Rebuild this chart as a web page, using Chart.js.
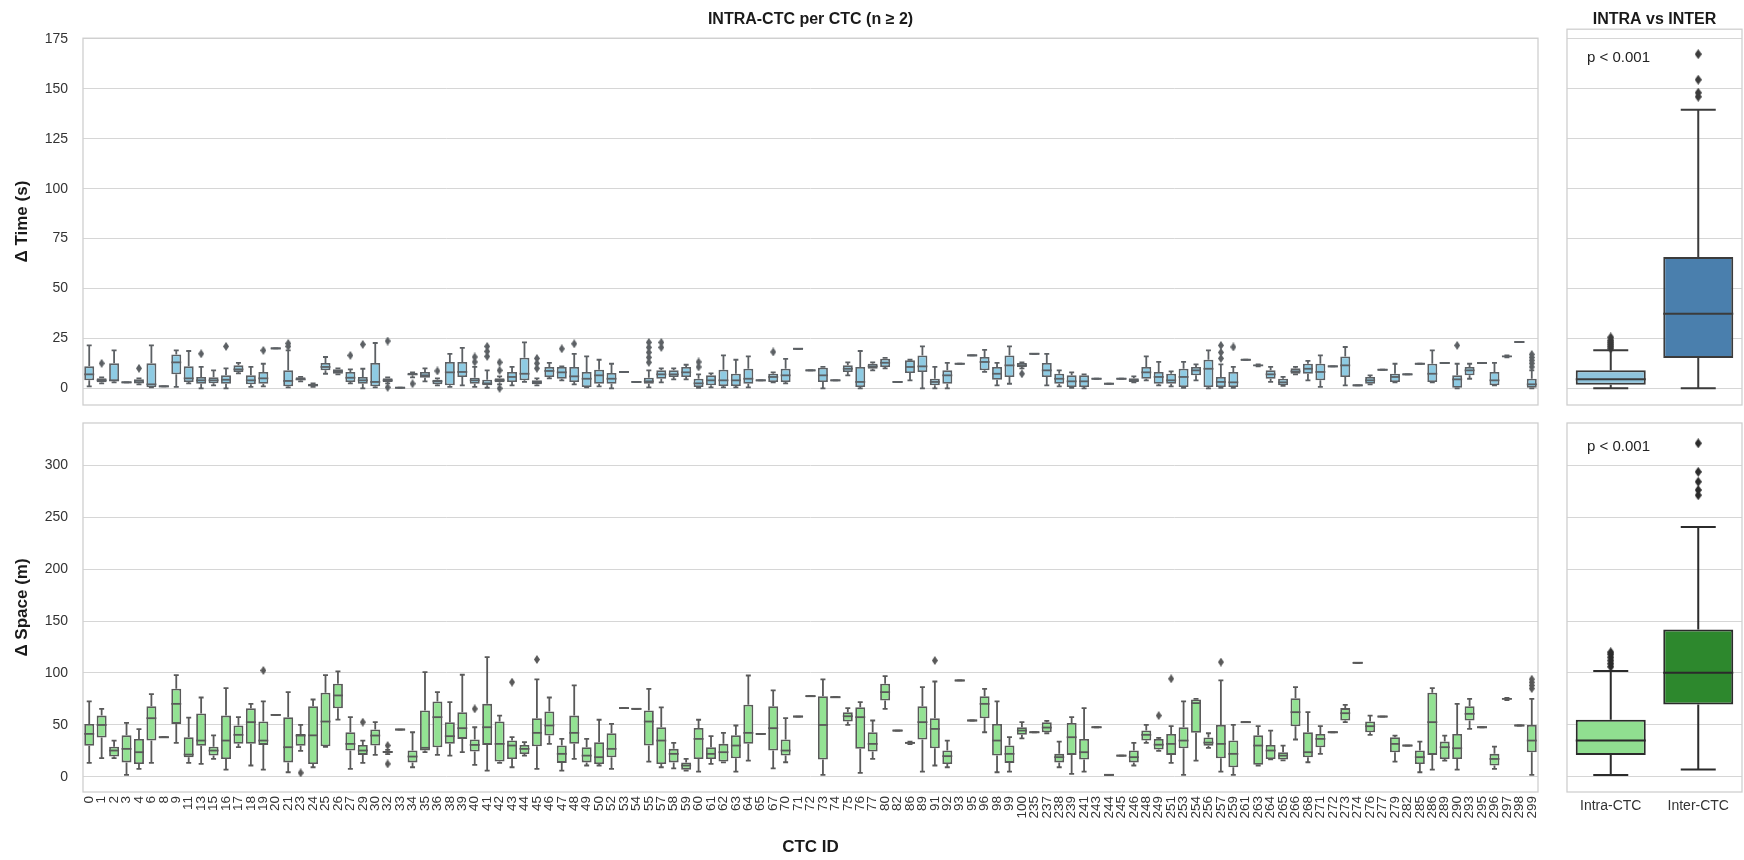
<!DOCTYPE html>
<html><head><meta charset="utf-8">
<script src="https://cdn.jsdelivr.net/npm/chart.js@4.4.1/dist/chart.umd.min.js"></script>
<style>
html,body{margin:0;padding:0;background:#fff;width:1744px;height:860px;overflow:hidden;position:relative;}
.p{position:absolute;}
</style></head><body>
<div class="p" style="left:0;top:0;width:1545px;height:410px"><canvas id="c1" width="1545" height="410"></canvas></div>
<div class="p" style="left:0;top:410px;width:1545px;height:450px"><canvas id="c2" width="1545" height="450"></canvas></div>
<div class="p" style="left:1563px;top:0;width:183px;height:410px"><canvas id="c3" width="183" height="410"></canvas></div>
<div class="p" style="left:1563px;top:410px;width:183px;height:450px"><canvas id="c4" width="183" height="450"></canvas></div>
<script>
const ctcIds = ['0','1','2','3','4','6','8','9','11','13','15','16','17','18','19','20','21','23','24','25','26','27','29','30','32','33','34','35','36','38','39','40','41','42','43','44','45','46','47','48','49','50','52','53','54','55','57','58','59','60','61','62','63','64','65','67','70','71','72','73','74','75','76','77','80','82','86','89','91','92','93','95','96','98','99','100','235','237','238','239','241','243','244','245','246','248','249','251','253','254','256','257','259','261','263','264','265','266','268','271','272','273','274','276','277','279','282','285','286','289','290','293','295','296','297','298','299'];

// Δ Time (s) per CTC: whisker low, Q1, median, Q3, whisker high
const timeLow = [1,2.5,3,3,2,0.5,1,0.7,2.5,0, 1.5,0,7.5,0.7,1,20,0.5,3.5,0.7,7.3, 7,2.5,0,0.5,2.5,0.3,5.5,3.5,1.5,0.7, 1.5,0.7,0.3,2,1.5,3.2,1.5,5,4,2, 0.5,1,0,8.2,3.2,0.5,3,4.5,4.5,0.3, 0.5,0.5,0.5,0.5,4,3,2.5,19.8,9,0, 4,6.5,0,9,10,3.2,4,0,0,0, 12.3,16.5,8.2,1.5,2.3,10,17.3,1.5,1,0.3, 0,4.8,2.3,4.8,3,4,1.5,1,0.3,4, 0,0.3,0.3,14.3,11,3.2,1.2,7,4,0.7, 11,1.5,1.5,2,9.3,3,7,12.3,3,12.7, 0,4.8,12.7,1.5,15.5,23.2,0];
const timeQ1 = [4,3,3.5,3,2.5,0.5,1,7,3.2,2.3, 2.5,2.3,8.2,2,2.3,20,1,4,1,9, 7.3,3.2,2.3,1,3.2,0.3,6.5,5.3,2,1.5, 5.7,2.3,1.5,3,3.2,4,2,5.7,4.8,3.2, 0.7,2.3,2.3,8.2,3.2,2.3,4.8,5.7,5.7,0.7, 1.5,1.2,1.2,2.3,4,3.2,3.2,19.8,9,3.2, 4,8.2,0.7,9.8,10.7,3.2,7.7,8.2,1.5,2.3, 12.3,16.5,9,4.3,5.7,10.7,17.3,5.7,2.3,0.7, 0.7,4.8,2.3,4.8,3.2,4.8,2.3,2.3,0.7,6.5, 0.7,0.7,0.7,14.3,11.2,4.8,1.5,7.3,7.3,4, 11,5.7,1.5,2.3,9.3,3.2,7,12.3,3.2,12.7, 0,6.5,12.7,1.5,15.7,23.2,0.3];
const timeMed = [7,4,4,3,3,2,1,13,5,4, 4,4.3,9.5,4,5,20,3.7,4.5,1.5,10.7, 8.5,5.3,4,3.2,4,0.3,7,6.5,3.5,8, 8.2,4,2.5,4,5.7,7.3,3,8.7,8,6, 4.8,6.5,4.8,8.2,3.2,3.5,7,7,8,2.5, 4,4,4,4.8,4,5.7,6.5,19.8,9,6.5, 4,9.8,3.2,11,12.8,3.2,10.7,11,3.2,6.5, 12.3,16.5,13.2,7.3,11.5,11.5,17.3,9,4.8,3.5, 3.5,4.8,2.3,4.8,4,8,5.7,4,5.7,9, 9.8,3.2,3,14.3,11.5,7,3,8.5,9.8,8.2, 11,11.5,1.5,4,9.3,5.7,7,12.3,7.3,12.7, 4.5,9,12.7,4,16,23.2,2];
const timeQ3 = [11,5,12.5,3,4.5,12.5,1,17,11,5.7, 5.5,6.5,11.5,6.5,8.2,20,9,5.5,2.3,12.7, 9.5,8.2,5.7,12.7,5,0.3,7.8,8.2,4.3,13.2, 13.2,5.3,4.3,5,8.2,15.3,4,10.7,10.7,10.7, 8.2,9.3,7.7,8.2,3.2,5.3,9,9,10.7,4.8, 6.5,9.3,7.3,9.8,4,7.3,9.8,19.8,9,10.3, 4,11.5,10.7,12.3,14.8,3.2,14,16.5,4.8,9, 12.3,16.5,15.7,10.7,16.5,12.7,17.3,12.7,7.3,6.5, 6.5,4.8,2.3,4.8,5,10.7,8.2,7.3,9.8,10.7, 14.3,5.7,8.2,14.3,11.8,9,4.8,10,12.3,12.3, 11,16,1.5,5.7,9.3,7.3,7,12.3,12.3,12.7, 6.5,10.7,12.7,8.2,16.3,23.2,4.8];
const timeHigh = [21.5,5.5,19,3,5,21.5,1,19,18.7,10.7, 9,10,12.7,10.7,12.3,20,19,5.7,2.5,15.7, 10,9.5,9.8,22.7,5.5,0.3,8,10,5,17.3, 20.3,10.7,9,6,10.7,23,5,12.7,11,17.3, 16,14.3,12.3,8.2,3.2,9,10,10,11.8,7, 7.5,16.5,14.3,16,4,8,14.8,19.8,9,10.7, 4,13,18.7,13,15.3,3.2,14.3,21,10.7,12.7, 12.3,16.5,19.3,12.7,21,13,17.3,17.3,9,8, 7,4.8,2.3,4.8,6,16,13.2,8.5,13.2,12, 19,12,10.7,14.3,12,10.7,5.7,10.7,13.7,16.5, 11,20.7,1.5,6.5,9.3,12.3,7,12.3,19,12.7, 12.3,12.3,12.7,12.7,16.5,23.2,9];
const timeOutliers = [['1',12.5],['4',10],['13',17.3],['16',21],['19',19],['21',21],['21',22.5],['27',16.5],['29',22],['32',23.7],['32',0.5],['34',2.3],['36',8.7],['40',13.2],['40',15.7],['41',16],['41',18.5],['41',21],['42',9],['42',13],['42',0],['45',10],['45',12.5],['45',15],['47',19.8],['48',22.3],['55',13],['55',15.5],['55',18],['55',20.5],['55',23],['57',20.5],['57',23],['60',10.7],['60',13.2],['67',18.2],['100',7.3],['257',15],['257',18],['257',21.5],['259',20.7],['290',21.5],['299',10.7],['299',12.5],['299',14],['299',15.5],['299',17]];

// Δ Space (m) per CTC
const spaceLow = [13.5,18,18,2,7.7,13.5,38.2,32.8,13.5,12.5, 17.3,7,28.6,11,7,59.7,4.5,25,9.3,29, 55.2,7.7,13.5,21.2,22,45.6,9.3,23.8,21.2,20.5, 23.8,11.6,6.1,13.5,9.3,20.5,7.7,31.8,6.1,17.3, 11,11,7.7,66.2,65.5,14.8,9.3,8.3,6,5.1, 12.5,14,5.1,15.7,41.4,8.3,14.1,58.1,77.7,2, 76.7,50,3.9,17.3,65.5,44.6,31.5,5.1,11,9.3, 92.8,54.3,43,4.5,5.1,37,43,42,9.3,2.9, 5.1,47.8,2,20.5,11,32.8,25,13.5,2,15.7, 28,5.1,2,52.7,11,17,16,36,14.1,22.2, 43,52.7,109.8,40.5,58.1,14.8,30.2,4.5,7,15.7, 7,46.2,47.8,7.7,74,49.5,2];
const spaceQ1 = [30,38,19.6,14,12.5,35,38.2,51,19,30, 20.5,17.3,31.8,31.8,30.8,59.7,14,30,12.5,29.5, 66,25.4,21.2,30.2,23,45.6,14,25.4,28.6,31.8, 36.6,24.4,30.8,14.8,17.3,22,29.5,39.8,13.5,31.8, 14,12.5,19,66.2,65.5,30.2,12.5,14,7,17.3, 17.3,14.8,18,31.8,41.4,25.4,20.5,58.1,77.7,16.7, 76.7,53.3,27,24.4,73.5,44.6,32,36,27.6,12.5, 92.8,54.3,56.5,20.5,13.5,40.5,43,43,14,21.2, 16.7,47.8,2,20.5,14,35,26.3,21.2,27.6,42.4, 30,18,9.3,52.7,11.6,17.3,16.7,48.8,19,28.6, 43,54.3,109.8,43,58.1,23.8,30.2,12.5,21.2,17.3, 17.3,54.3,47.8,11,74.5,49.5,23.8];
const spaceMed = [41.4,50,25.4,27,23.8,56.5,38.2,70.3,21.5,35, 25.4,35,40.5,52.7,35,59.7,28.6,39.8,40,53.3, 78.4,31.8,25.4,39.8,24,45.6,19.6,28,57.5,39.2, 46.9,30.8,47.8,31.8,30.2,27,42.4,49.5,22.2,42.4, 20.5,19,27,66.2,65.5,53.3,35,22.2,11,36.6, 22.2,23.8,30.2,42.4,41.4,46.9,25.4,58.1,77.7,50, 76.7,58.4,57.5,31.8,81.6,44.6,32.8,52.7,46.2,20, 92.8,54.3,70.3,35,22.2,44.6,43,47.5,19,38.2, 23.8,47.8,2,20.5,19,40.5,31,31.8,35,71, 33,31.8,22.2,52.7,30.2,25.4,20.5,62.3,23.8,36.6, 43,61.3,109.8,48.8,58.1,31.8,30.2,19,52.7,28.6, 27.6,60.7,47.8,17.3,75.1,49.5,35];
const spaceQ3 = [51,59,29,40,36.6,68,38.2,84.8,38.2,61, 29,59,49.5,66,53.3,59.7,57.5,41.4,68,81, 89.6,43,30.8,45.6,25,45.6,25.4,64,72.6,52.7, 62.3,36,70.3,53.3,35,30.8,56.5,63,30.2,59, 28.6,33.4,42,66.2,65.5,64,47.8,27,14,47, 28.6,31.8,40,69.4,41.4,68,36,58.1,77.7,77.7, 76.7,62.3,67,43,89.6,44.6,33.5,68,56.5,25.4, 92.8,54.3,77.7,51,30.2,47.8,43,52.7,22.2,52, 36.6,47.8,2,20.5,25.4,44.6,36.6,41.4,47.8,74.5, 38,50,35,52.7,40,30.8,23.8,75.8,43,41.4, 43,66.2,109.8,53.3,58.1,38.2,30.2,25.4,81,34, 41.4,68,47.8,22.2,75.7,49.5,50];
const spaceHigh = [72.6,65.5,35,52,46,79.6,38.2,98,57,76.4, 40,85.4,57.5,70.3,72.6,59.7,81.6,50,74.5,98, 101.5,57.5,35,52.7,26,45.6,43,100.8,81.6,72, 98.3,47.8,115.3,59,38.2,33.4,93.8,76.4,36.6,88, 36.6,55,51,66.2,65.5,84.8,67,32.8,17.3,55, 39.2,42.4,49.5,97.6,41.4,83.2,56.5,58.1,77.7,93.8, 76.7,66.2,72,54.3,97,44.6,34,86.4,91.8,35, 92.8,54.3,84.8,72.6,38.2,52.7,43,54,34,57.5, 66.2,47.8,2,20.5,32.8,50,37.5,48.8,72.6,75, 42,92.8,50,52.7,48.8,44.6,30.2,86.4,62.3,48.8, 43,69.4,109.8,59,58.1,39.8,30.2,34,85.4,39.8, 70.3,75.1,47.8,29.2,76,49.5,75.1];
const spaceOutliers = [['19',102.4],['23',3.9],['29',52.7],['32',30.2],['32',12.5],['40',65.5],['43',91.2],['45',113],['91',112],['249',59],['251',94.4],['257',110.5],['299',85],['299',88],['299',91],['299',94]];

// INTRA vs INTER
const groupLabels = ['Intra-CTC','Inter-CTC'];
const timeGroupLow = [0, 0];
const timeGroupQ1 = [1.85, 15.2];
const timeGroupMed = [4.5, 37.3];
const timeGroupQ3 = [9, 65.7];
const timeGroupHigh = [19, 139.5];
const timeGroupOutliers = [['Intra-CTC',20],['Intra-CTC',21],['Intra-CTC',22],['Intra-CTC',23],['Intra-CTC',24],['Intra-CTC',25.5],['Inter-CTC',146],['Inter-CTC',148],['Inter-CTC',154.5],['Inter-CTC',167.3]];
const spaceGroupLow = [1.9, 7.1];
const spaceGroupQ1 = [21.2, 69.7];
const spaceGroupMed = [35, 100.2];
const spaceGroupQ3 = [54.9, 141.9];
const spaceGroupHigh = [101.8, 240.5];
const spaceGroupOutliers = [['Intra-CTC',106],['Intra-CTC',109],['Intra-CTC',112],['Intra-CTC',115],['Intra-CTC',118],['Intra-CTC',120],['Inter-CTC',271],['Inter-CTC',276],['Inter-CTC',284],['Inter-CTC',293.5],['Inter-CTC',321]];

const timeTicks = [0,25,50,75,100,125,150,175];
const spaceTicks = [0,50,100,150,200,250,300];
const pText = 'p < 0.001';

Chart.defaults.font.family = '"Liberation Sans", Arial, sans-serif';
Chart.defaults.color = '#333';
const GRID = '#d6d6d6';
const SPINE = '#cfcfcf';

function diamond(color, w, h) {
  const c = document.createElement('canvas'); c.width = w; c.height = h;
  const g = c.getContext('2d'); g.fillStyle = color; g.beginPath();
  g.moveTo(w/2, 0); g.lineTo(w, h/2); g.lineTo(w/2, h); g.lineTo(0, h/2); g.closePath(); g.fill();
  return c;
}

function boxPlugin(st) {
  return {
    id: 'boxDraw',
    beforeDatasetsDraw(chart) {
      const ctx = chart.ctx, x = chart.scales.x, y = chart.scales.y;
      const cw = Math.abs(x.getPixelForValue(1) - x.getPixelForValue(0));
      const cap = cw * 0.8 / 4;
      ctx.save(); ctx.strokeStyle = st.line; ctx.lineWidth = st.lw; ctx.lineCap = 'butt';
      st.low.forEach((lo, i) => {
        const cx = x.getPixelForValue(i);
        const pl = y.getPixelForValue(lo), pq1 = y.getPixelForValue(st.q1[i]);
        const pq3 = y.getPixelForValue(st.q3[i]), ph = y.getPixelForValue(st.high[i]);
        ctx.beginPath();
        ctx.moveTo(cx, pq1); ctx.lineTo(cx, pl);
        ctx.moveTo(cx - cap, pl); ctx.lineTo(cx + cap, pl);
        ctx.moveTo(cx, pq3); ctx.lineTo(cx, ph);
        ctx.moveTo(cx - cap, ph); ctx.lineTo(cx + cap, ph);
        ctx.stroke();
      });
      ctx.restore();
    },
    afterDatasetsDraw(chart) {
      const ctx = chart.ctx, x = chart.scales.x, y = chart.scales.y;
      const cw = Math.abs(x.getPixelForValue(1) - x.getPixelForValue(0));
      const half = cw * 0.8 / 2;
      ctx.save(); ctx.strokeStyle = st.line; ctx.lineWidth = st.lw;
      st.med.forEach((m, i) => {
        const cx = x.getPixelForValue(i);
        const pm = y.getPixelForValue(m);
        ctx.beginPath(); ctx.moveTo(cx - half, pm); ctx.lineTo(cx + half, pm); ctx.stroke();
        if (st.q3[i] - st.q1[i] <= 0.05) {
          const pq = y.getPixelForValue(st.q1[i]);
          ctx.beginPath(); ctx.moveTo(cx - half, pq); ctx.lineTo(cx + half, pq); ctx.stroke();
        }
      });
      ctx.restore();
    }
  };
}

const framePlugin = {
  id: 'frame',
  afterDraw(chart, args, opts) {
    const {ctx, chartArea: a} = chart;
    ctx.save(); ctx.strokeStyle = SPINE; ctx.lineWidth = 1.3;
    ctx.strokeRect(a.left, a.top, a.right - a.left, a.bottom - a.top);
    if (opts && opts.ptext) {
      ctx.fillStyle = '#222'; ctx.font = '15px "Liberation Sans", Arial, sans-serif';
      ctx.textBaseline = 'middle'; ctx.textAlign = 'left';
      ctx.fillText(opts.ptext, a.left + 20, a.top + opts.pdy);
    }
    ctx.restore();
  }
};

function zeroPad(s) { s.paddingTop = 0; s.paddingBottom = 0; s.paddingLeft = 0; s.paddingRight = 0; }

function makeChart(id, cfg) {
  const labels = cfg.labels;
  const boxData = cfg.q1.map((v, i) => (cfg.q3[i] - v > 0.05 ? [v, cfg.q3[i]] : null));
  const outData = cfg.outliers.map(([k, v]) => ({x: k, y: v}));
  return new Chart(document.getElementById(id), {
    type: 'bar',
    data: {
      labels: labels,
      datasets: [
        {type: 'bar', data: boxData, backgroundColor: cfg.fill, borderColor: cfg.line, borderWidth: cfg.lw,
         borderSkipped: false, barPercentage: 0.8, categoryPercentage: 1.0, order: 2},
        {type: 'line', data: outData, showLine: false, pointStyle: diamond(cfg.line, cfg.dw, cfg.dh),
         pointRadius: 4, borderWidth: 0, order: 1}
      ]
    },
    options: {
      responsive: false, animation: false, events: [],
      layout: {padding: cfg.padding},
      plugins: {
        legend: {display: false}, tooltip: {enabled: false},
        title: cfg.title ? {display: true, text: cfg.title, fullSize: false, color: '#1a1a1a',
          font: {size: 16, weight: 'bold'}, padding: cfg.titlePad} : {display: false},
        frame: {ptext: cfg.ptext || null, pdy: cfg.pdy || 0}
      },
      scales: {
        x: {
          type: 'category', offset: true, display: cfg.xDisplay,
          grid: {display: false, drawTicks: false}, border: {display: false},
          ticks: {autoSkip: false, minRotation: cfg.xRot, maxRotation: cfg.xRot, padding: cfg.xPad,
                  font: {size: cfg.xFont}, color: '#333'},
          title: cfg.xTitle ? {display: true, text: cfg.xTitle, color: '#1a1a1a', font: {size: 17, weight: 'bold'}, padding: {top: 0, bottom: 2}} : {display: false},
          afterFit: (s) => { s.height = cfg.xDisplay ? 68 : 0; zeroPad(s); }
        },
        y: {
          type: 'linear', min: cfg.ymin, max: cfg.ymax,
          grid: {color: GRID, lineWidth: 1, drawTicks: false}, border: {display: false},
          ticks: {display: cfg.yTicks, padding: 15, font: {size: 14}, color: '#333'},
          title: cfg.yTitle ? {display: true, text: cfg.yTitle, color: '#1a1a1a', font: {size: 17, weight: 'bold'}, padding: {top: 12, bottom: 0}} : {display: false},
          afterBuildTicks: (s) => { s.ticks = cfg.ticks.map(v => ({value: v})); },
          afterFit: (s) => { s.width = cfg.yWidth; zeroPad(s); }
        }
      }
    },
    plugins: [boxPlugin({low: cfg.low, q1: cfg.q1, med: cfg.med, q3: cfg.q3, high: cfg.high, line: cfg.line, lw: cfg.lw}), framePlugin]
  });
}

makeChart('c1', {
  labels: ctcIds, low: timeLow, q1: timeQ1, med: timeMed, q3: timeQ3, high: timeHigh, outliers: timeOutliers,
  fill: '#8ecbe3', line: '#5c6064', lw: 1.8, dw: 6, dh: 9,
  padding: {left: 0, right: 7, top: 0, bottom: 5},
  title: 'INTRA-CTC per CTC (n \u2265 2)', titlePad: {top: 10, bottom: 9},
  xDisplay: false, xRot: 0, xPad: 0, xFont: 12,
  ymin: -8.35, ymax: 175.35, ticks: timeTicks, yTicks: true, yTitle: '\u0394 Time (s)', yWidth: 83
});
makeChart('c2', {
  labels: ctcIds, low: spaceLow, q1: spaceQ1, med: spaceMed, q3: spaceQ3, high: spaceHigh, outliers: spaceOutliers,
  fill: '#93e293', line: '#595959', lw: 1.8, dw: 6, dh: 9,
  padding: {left: 0, right: 7, top: 13, bottom: 0},
  title: null,
  xDisplay: true, xRot: 90, xPad: 4, xFont: 13.5, xTitle: 'CTC ID',
  ymin: -14.5, ymax: 340.5, ticks: spaceTicks, yTicks: true, yTitle: '\u0394 Space (m)', yWidth: 83
});
makeChart('c3', {
  labels: groupLabels, low: timeGroupLow, q1: timeGroupQ1, med: timeGroupMed, q3: timeGroupQ3, high: timeGroupHigh, outliers: timeGroupOutliers,
  fill: ['#8fc4dd', '#4a7fad'], line: '#3b3b3b', lw: 2, dw: 7, dh: 10,
  padding: {left: 0, right: 0, top: 0, bottom: 5},
  title: 'INTRA vs INTER', titlePad: {top: 10, bottom: 0},
  xDisplay: false, xRot: 0, xPad: 0, xFont: 14,
  ymin: -8.35, ymax: 179.8, ticks: timeTicks, yTicks: false, yTitle: null, yWidth: 0,
  ptext: pText, pdy: 29
});
makeChart('c4', {
  labels: groupLabels, low: spaceGroupLow, q1: spaceGroupQ1, med: spaceGroupMed, q3: spaceGroupQ3, high: spaceGroupHigh, outliers: spaceGroupOutliers,
  fill: ['#90df90', '#2d882d'], line: '#2b2b2b', lw: 2, dw: 7, dh: 10,
  padding: {left: 0, right: 0, top: 13, bottom: 0},
  title: null,
  xDisplay: true, xRot: 0, xPad: 6, xFont: 14, xTitle: null,
  ymin: -14.5, ymax: 340.5, ticks: spaceTicks, yTicks: false, yTitle: null, yWidth: 0,
  ptext: pText, pdy: 24
});
</script>
</body></html>
